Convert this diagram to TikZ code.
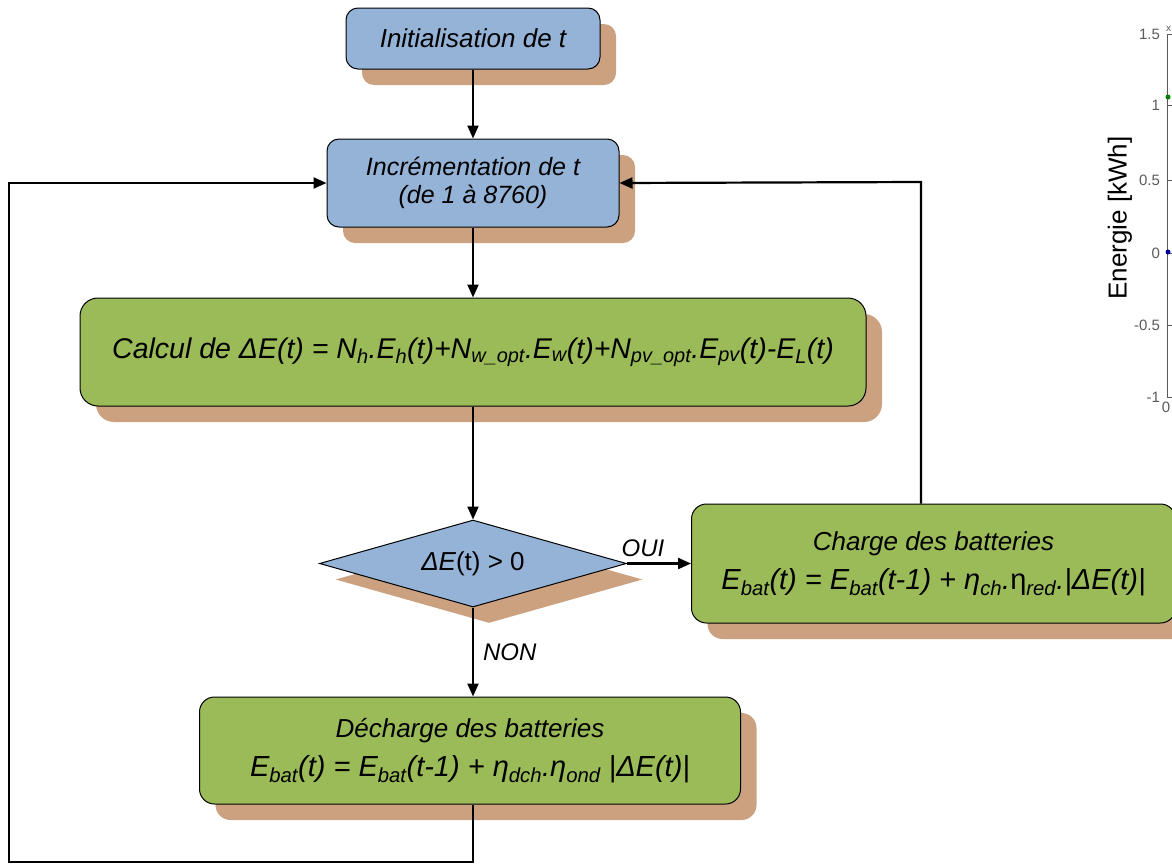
\documentclass[tikz,border=0pt]{standalone}
\usepackage{fontspec}
\setmainfont{Liberation Sans}
\usetikzlibrary{positioning, arrows.meta, shapes.geometric, shadows}

\definecolor{boxblue}{RGB}{149,179,215}
\definecolor{boxgreen}{RGB}{155,187,89}
\definecolor{shadowtan}{RGB}{203,161,128}
\definecolor{axisgray}{RGB}{90,90,90}

\begin{document}
\begin{tikzpicture}[x=1pt, y=-1pt,
      flowbox/.style={draw, line width=1pt, rounded corners=12pt, align=center,
        inner sep=0pt, font=\fontsize{26}{30}\selectfont\itshape,
        drop shadow={shadow xshift=16pt, shadow yshift=-16pt,
          fill=shadowtan, opacity=1}},
      testdiam/.style={diamond, draw, line width=1pt, fill=boxblue, aspect=3.5,
        minimum width=307pt, minimum height=87pt, inner sep=0pt,
        font=\fontsize{26}{30}\selectfont,
        drop shadow={shadow xshift=16pt, shadow yshift=-16pt,
          fill=shadowtan, opacity=1}},
      choice/.style={font=\fontsize{24}{28}\selectfont\itshape, inner sep=3pt},
      ticklab/.style={anchor=east, text=axisgray, inner sep=0pt,
        font=\fontsize{15}{17}\selectfont},
      >={Triangle[length=13pt, width=11pt]}, line width=2.2pt, node distance=69pt]
    \useasboundingbox (0,0) rectangle (1172,865);

    \node[flowbox, fill=boxblue, minimum width=254pt, minimum height=61pt]
      (init) at (473,38.5) {Initialisation de t};
    \node[flowbox, fill=boxblue, minimum width=292pt, minimum height=88pt,
      font=\fontsize{25}{28}\selectfont\itshape, below=of init] (incr)
      {Incrémentation de t\\(de 1 à 8760)};
    \node[flowbox, fill=boxgreen, rounded corners=18pt, minimum width=786pt,
      minimum height=108pt, font=\fontsize{28.5}{32}\selectfont\itshape,
      below=70pt of incr] (calc)
      {Calcul de ΔE(t) = N\textsubscript{h}.E\textsubscript{h}(t)+N\textsubscript{w\_opt}.E\textsubscript{w}(t)+N\textsubscript{pv\_opt}.E\textsubscript{pv}(t)-E\textsubscript{L}(t)};
    \node[testdiam, below=113pt of calc] (test) {{\itshape ΔE}(t) > 0};
    \node[flowbox, fill=boxgreen, rounded corners=15pt, minimum width=484pt,
      minimum height=119pt, right=64pt of test] (charge)
      {Charge des batteries\\[9pt]
       \fontsize{29}{34}\selectfont E\textsubscript{bat}(t) = E\textsubscript{bat}(t-1) + η\textsubscript{ch}.{\upshape η}\textsubscript{red}.|ΔE(t)|};
    \node[flowbox, fill=boxgreen, rounded corners=15pt, minimum width=541pt,
      minimum height=107pt, below=89pt of test, xshift=-3pt] (decharge)
      {Décharge des batteries\\[9pt]
       \fontsize{29}{34}\selectfont E\textsubscript{bat}(t) = E\textsubscript{bat}(t-1) + η\textsubscript{dch}.η\textsubscript{ond} |ΔE(t)|};

    \foreach \a/\b in {init/incr, incr/calc, calc/test} {
      \draw[->] (\a) -- (\b);
    }
    \draw[->] (test) -- node[choice, above=3pt, pos=0.25] (oui) {OUI} (charge);
    \draw[->] (test) -- node[choice, right=6pt] (non) {NON} (test |- decharge.north);

    % retour vers l'incrementation
    \coordinate (lcorner) at (9,862);
    \coordinate (rcorner) at (921,182);
    \draw[->] (test |- decharge.south) |- (lcorner) |- (incr.west);
    \draw[->] (charge.north -| rcorner) -- (rcorner) -- (incr.east);

    % bord de la courbe voisine
    \draw[axisgray, line width=0.8pt] (1167.5,34) -- (1167.5,397.5) -- (1175,397.5);
    \foreach \v/\yy [count=\k] in {1.5/34, 1/105, 0.5/180, 0/253, -0.5/325, -1/397} {
      \node[ticklab] (ytick\k) at (1161,\yy) {\v};
      \draw[axisgray, line width=0.8pt] (1167.5,\yy) -- ++(4,0);
    }
    \node[ticklab, anchor=north] (xtick) at (1166,401) {0};
    \node[ticklab, anchor=south west, font=\fontsize{10}{11}\selectfont] (xscale) at (1165,33) {x};
    \node[rotate=90, font=\fontsize{26}{30}\selectfont] (ylab) at (1120,218) {Energie [kWh]};
    \fill[green!50!black] (1168,97) circle (2.5pt);
    \fill[blue!60!black] (1168,252) circle (2.5pt);
\end{tikzpicture}
\end{document}
